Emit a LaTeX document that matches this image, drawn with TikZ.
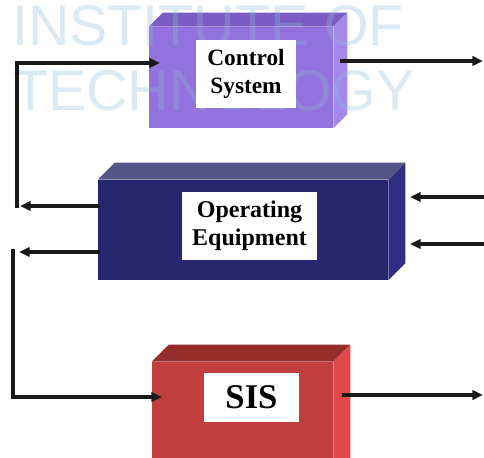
\documentclass[tikz,border=0pt]{standalone}
\usepackage{fontspec}
\setmainfont{Liberation Serif}
\newfontfamily\wmfont{Liberation Sans}
\usetikzlibrary{arrows.meta,calc}

\definecolor{csfront}{HTML}{9272DC}
\definecolor{cstop}{HTML}{7A5CC4}
\definecolor{csside}{HTML}{A488EC}
\definecolor{oefront}{HTML}{27276F}
\definecolor{oetop}{HTML}{555587}
\definecolor{oeside}{HTML}{2E2E82}
\definecolor{sisfront}{HTML}{C23D3D}
\definecolor{sistop}{HTML}{962E2E}
\definecolor{sisside}{HTML}{E04A4A}
\definecolor{wmblue}{HTML}{8DBCD8}

% front face of a block; top and side faces are added by \solidbox
\tikzset{
  face/.style={draw=none, inner sep=0pt},
  tag/.style={fill=white, inner sep=0pt, align=center, font=\bfseries},
  link/.style={line width=2.3pt, draw=black!90, -{Triangle[length=8pt,width=7pt]}},
  wmark/.style={wmblue, opacity=0.32, font=\wmfont\fontsize{43}{43}\selectfont, inner sep=0pt}
}

% #1 node name, #2 depth, #3 top colour, #4 side colour
\newcommand\solidbox[4]{%
  \fill[#3] (#1.north west) -- ++(#2,-#2) -- ($(#1.north east)+(#2,-#2)$) -- (#1.north east) -- cycle;
  \fill[#4] (#1.north east) -- ++(#2,-#2) -- ($(#1.south east)+(#2,-#2)$) -- (#1.south east) -- cycle;
}

\begin{document}
\begin{tikzpicture}[x=0.75pt,y=-0.75pt]
\useasboundingbox (0,0) rectangle (484,457);
\clip (0,0) rectangle (484,457);

% blocks
\node[face, fill=csfront, minimum width=138pt, minimum height=75.75pt] (cs) at (241,77.5) {};
\solidbox{cs}{14}{cstop}{csside}
\node[face, fill=oefront, minimum width=217.5pt, minimum height=75pt] (oe) at (243,230) {};
\solidbox{oe}{17}{oetop}{oeside}
\node[face, fill=sisfront, minimum width=135.75pt, minimum height=84.75pt] (sis) at (242.5,418.5) {};
\solidbox{sis}{17}{sistop}{sisside}

% watermark lettering
\node[wmark, anchor=base west] (wm1) at (12,45) {INSTITUTE OF};
\node[wmark, anchor=base west] (wm2) at (13,110) {TECHNOLOGY};

% labels
\node[tag, minimum width=75pt, minimum height=51pt, font=\bfseries\fontsize{17.5}{21.5}\selectfont] (cst) at (246,74) {Control\\System};
\node[tag, minimum width=101.25pt, minimum height=51pt, font=\bfseries\fontsize{18}{21}\selectfont] (oet) at (249.5,226) {Operating\\Equipment};
\node[tag, minimum width=71.25pt, minimum height=36.75pt, font=\bfseries\fontsize{26}{26}\selectfont] (sist) at (251.5,397.5) {SIS};

% free ends of the connectors
\coordinate (csin) at (160,63);
\coordinate (csout) at (483,61);
\coordinate (fbtop) at (17,63);
\coordinate (fbbot) at (17,208);
\coordinate (oeout1) at (20,206);
\coordinate (oeout2) at (19,252);
\coordinate (sdtop) at (13,249);
\coordinate (sdbot) at (13,397);
\coordinate (sisin) at (162,397);
\coordinate (sisout) at (483,395);
\coordinate (oein1) at (410,197);
\coordinate (oein2) at (410,244);
\coordinate (rin1) at (484,197);
\coordinate (rin2) at (484,244);

% connectors
\draw[link] ($(cs.east |- csout)+(7,0)$) -- (csout);
\draw[link] (fbbot) -- (fbtop) -- (csin);
\draw[link] ($(oe.west |- oeout1)+(2,0)$) -- (oeout1);
\draw[link] ($(oe.west |- oeout2)+(2,0)$) -- (oeout2);
\draw[link] (sdtop) -- (sdbot) -- (sisin);
\draw[link] ($(sis.east |- sisout)+(9,0)$) -- (sisout);
\draw[link] (rin1) -- (oein1);
\draw[link] (rin2) -- (oein2);
\end{tikzpicture}
\end{document}
